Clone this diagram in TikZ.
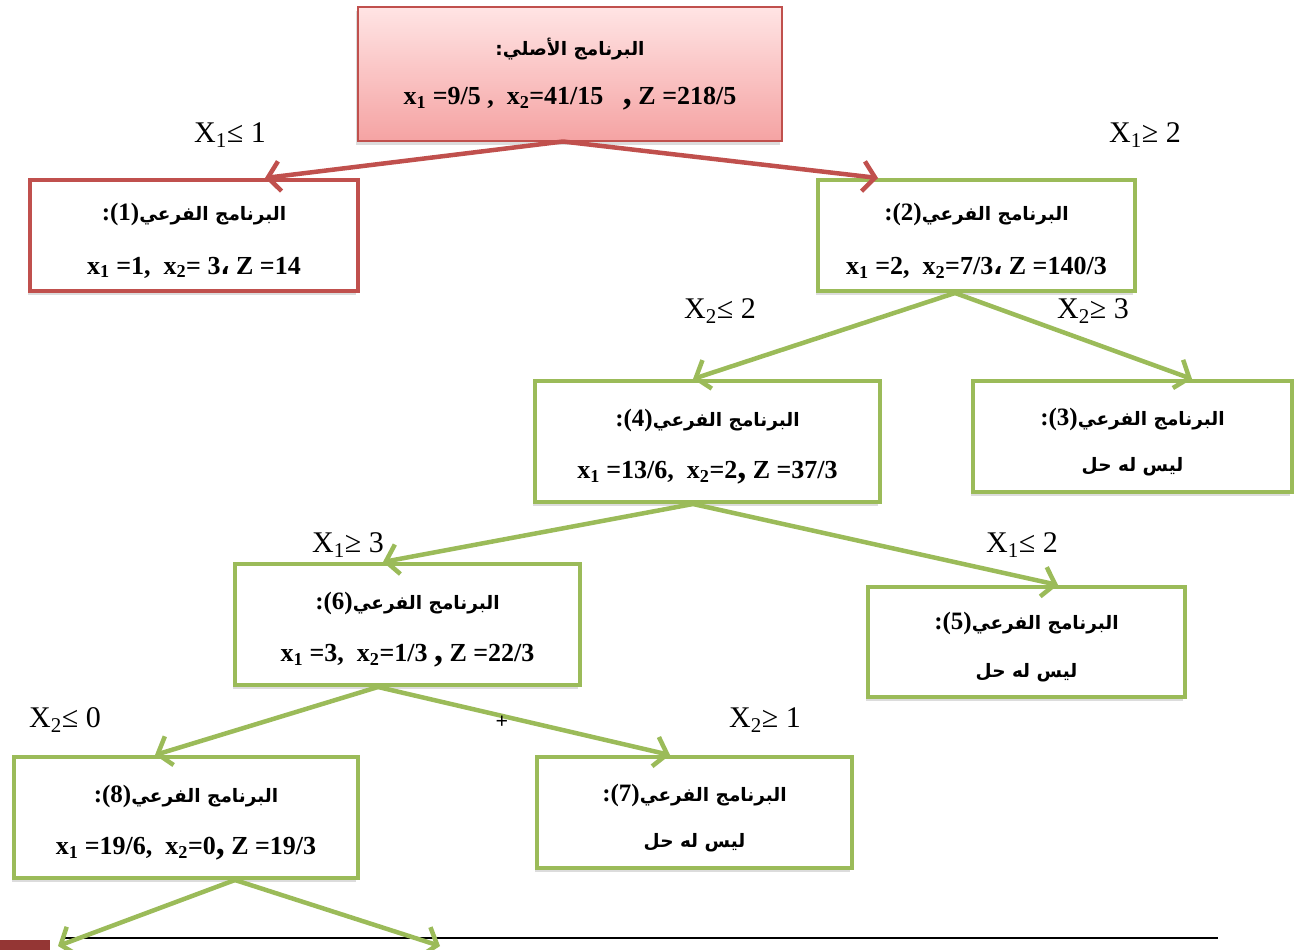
\documentclass[tikz,border=0pt]{standalone}
\usepackage{fontspec}
\setmainfont{Liberation Serif}
\newfontfamily\arabicfont[Script=Arabic]{DejaVu Sans}
\TeXXeTstate=1
\usetikzlibrary{arrows.meta,shadows}
\definecolor{myred}{HTML}{C0504D}
\definecolor{mygreen}{HTML}{9BBB59}
\definecolor{darkred}{HTML}{943634}
\definecolor{pinktop}{HTML}{FFE4E4}
\definecolor{pinkbot}{HTML}{F5A3A3}
\newcommand{\artxt}[1]{{\arabicfont\bfseries\fontsize{18.5}{22}\selectfont\beginR #1\endR}}
\newcommand{\numtxt}[1]{{\bfseries\fontsize{25}{28}\selectfont #1}}
\newcommand{\subtitle}[1]{\rule{0pt}{28pt}\numtxt{:(#1)}\artxt{البرنامج الفرعي}}
\newcommand{\mline}[1]{{\bfseries\fontsize{26}{30}\selectfont #1}}
\newcommand{\acomma}{{\arabicfont\bfseries\fontsize{24}{28}\selectfont ،}}
\newcommand{\bcomma}{{\bfseries\fontsize{36}{30}\selectfont ,}}
\tikzset{
  box/.style={draw=mygreen, line width=4pt, fill=white, align=center, inner sep=0pt,
    drop shadow={opacity=0.28, shadow xshift=-2pt, shadow yshift=-4pt}},
  redbox/.style={box, draw=myred},
  rootbox/.style={box, draw=myred, line width=2pt, top color=pinktop, bottom color=pinkbot},
  garrow/.style={draw=mygreen, line width=4.5pt, -{Straight Barb[length=12pt,width=30pt]}},
  rarrow/.style={draw=myred, line width=4.5pt, -{Straight Barb[length=12pt,width=30pt]}},
  lbl/.style={inner sep=0pt, font=\fontsize{30}{34}\selectfont},
}
\begin{document}
\begin{tikzpicture}[x=1pt,y=-1pt]
\useasboundingbox (0,0) rectangle (1298,950);
% bottom decoration
\fill[darkred] (0,940) rectangle (50,950);
\coordinate (ls) at (62,938);
\coordinate (le) at (1218,938);
\draw[black, line width=2pt] (ls) -- (le);

% boxes
\node[rootbox, minimum width=424pt, minimum height=133pt] (root) at (570,74)
  {\artxt{البرنامج الأصلي:}\\[27pt]
   \mline{x\textsubscript{1} =9/5 ,\ \ x\textsubscript{2}=41/15\ \ \ \bcomma\ Z =218/5}};
\node[redbox, minimum width=328pt, minimum height=111pt] (b1) at (194,235.5)
  {\subtitle{1}\\[30pt]
   \mline{x\textsubscript{1} =1,\ \ x\textsubscript{2}= 3\acomma\ Z =14}};
\node[box, minimum width=317pt, minimum height=111pt] (b2) at (976.5,235.5)
  {\subtitle{2}\\[30pt]
   \mline{x\textsubscript{1} =2,\ \ x\textsubscript{2}=7/3\acomma\ Z =140/3}};
\node[box, minimum width=345pt, minimum height=121pt] (b4) at (707.5,441.5)
  {\subtitle{4}\\[28pt]
   \mline{x\textsubscript{1} =13/6,\ \ x\textsubscript{2}=2\bcomma\ Z =37/3}};
\node[box, minimum width=319pt, minimum height=111pt] (b3) at (1132.5,436.5)
  {\subtitle{3}\\[26pt]
   \artxt{ليس له حل}};
\node[box, minimum width=345pt, minimum height=121pt] (b6) at (407.5,624.5)
  {\subtitle{6}\\[28pt]
   \mline{x\textsubscript{1} =3,\ \ x\textsubscript{2}=1/3 \bcomma\ Z =22/3}};
\node[box, minimum width=317pt, minimum height=110pt] (b5) at (1026.5,642)
  {\subtitle{5}\\[28pt]
   \artxt{ليس له حل}};
\node[box, minimum width=344pt, minimum height=121pt] (b8) at (186,817.5)
  {\subtitle{8}\\[28pt]
   \mline{x\textsubscript{1} =19/6,\ \ x\textsubscript{2}=0\bcomma\ Z =19/3}};
\node[box, minimum width=315pt, minimum height=111pt] (b7) at (694.5,812.5)
  {\subtitle{7}\\[26pt]
   \artxt{ليس له حل}};

% arrows
\draw[rarrow] ([xshift=-7pt]root.south) -- ([xshift=71pt]b1.north);
\draw[rarrow] ([xshift=-7pt]root.south) -- ([xshift=-98.5pt]b2.north);
\draw[garrow] ([xshift=-21.5pt]b2.south) -- ([xshift=-14.5pt]b4.north);
\draw[garrow] ([xshift=-21.5pt]b2.south) -- ([xshift=59.5pt]b3.north);
\draw[garrow] ([xshift=-14.5pt]b4.south) -- ([xshift=-24.5pt]b6.north);
\draw[garrow] ([xshift=-14.5pt]b4.south) -- ([xshift=31.5pt]b5.north);
\draw[garrow] ([xshift=-29.5pt]b6.south) -- ([xshift=-31pt]b8.north);
\draw[garrow] ([xshift=-29.5pt]b6.south) -- ([xshift=-24.5pt]b7.north);
\coordinate (e1) at (58,946);
\coordinate (e2) at (440,946);
\draw[garrow] ([xshift=49pt]b8.south) -- (e1);
\draw[garrow] ([xshift=49pt]b8.south) -- (e2);

% labels
\node[lbl] (l1) at (230,135) {X\textsubscript{1}≤ 1};
\node[lbl] (l2) at (1145,135) {X\textsubscript{1}≥\ 2};
\node[lbl] (l3) at (720,311) {X\textsubscript{2}≤\ 2};
\node[lbl] (l4) at (1093,311) {X\textsubscript{2}≥\ 3};
\node[lbl] (l5) at (348,545) {X\textsubscript{1}≥\ 3};
\node[lbl] (l6) at (1022,545) {X\textsubscript{1}≤ 2};
\node[lbl] (l7) at (65,720) {X\textsubscript{2}≤\ 0};
\node[lbl] (l8) at (765,720) {X\textsubscript{2}≥\ 1};
\node[inner sep=0pt, font=\bfseries\fontsize{22}{24}\selectfont] (plus) at (502,722) {+};
\end{tikzpicture}
\end{document}
